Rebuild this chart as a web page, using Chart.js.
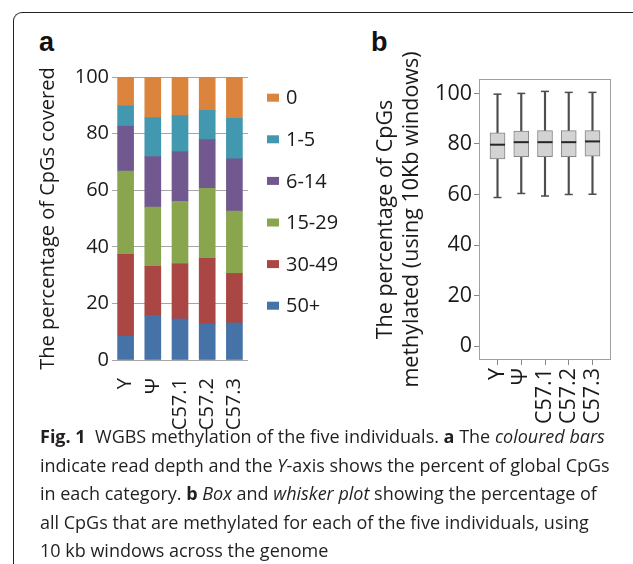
<!DOCTYPE html>
<html>
<head>
<meta charset="utf-8">
<script src="https://cdn.jsdelivr.net/npm/chart.js@4"></script>
<style>
  body { margin: 0; width: 633px; height: 564px; background: #fff; position: relative; overflow: hidden; font-family: "Open Sans", sans-serif; }
  .frame { position: absolute; left: 13px; top: 12px; width: 640px; height: 600px; border-top: 1.5px solid #222; border-left: 1.5px solid #222; border-top-left-radius: 9px; }
  .tag { position: absolute; top: 29px; font: bold 27px "Liberation Sans", Arial, sans-serif; line-height: 27px; color: #111; }
  canvas { position: absolute; }
  #caption { position: absolute; left: 40px; top: 422px; font-size: 18px; line-height: 28.5px; color: #231f20; white-space: nowrap; }
</style>
</head>
<body>
<div class="frame"></div>
<div class="tag" style="left:39px">a</div>
<div class="tag" style="left:371px">b</div>
<canvas id="depthChart" width="350" height="390" style="left:20px; top:50px"></canvas>
<canvas id="boxChart" width="260" height="390" style="left:370px; top:50px"></canvas>
<div id="caption">
  <b>Fig. 1</b>&nbsp; WGBS methylation of the five individuals. <b>a</b> The <i>coloured bars</i><br>
  indicate read depth and the <i>Y</i>-axis shows the percent of global CpGs<br>
  in each category. <b>b</b> <i>Box</i> and <i>whisker plot</i> showing the percentage of<br>
  all CpGs that are methylated for each of the five individuals, using<br>
  10 kb windows across the genome
</div>
<script>
// individuals
const groups = ['Y', 'Ψ', 'C57.1', 'C57.2', 'C57.3'];

// panel a: percent of CpGs per read depth bin (bottom to top)
const depthBins = ['50+', '30-49', '15-29', '6-14', '1-5', '0'];
const depth50 = [8.5, 15.8, 14.5, 12.8, 13.1];
const depth30 = [28.8, 17.3, 19.5, 23.1, 17.5];
const depth15 = [29.5, 20.9, 22.1, 24.8, 22.0];
const depth6 = [15.8, 17.9, 17.5, 17.2, 18.5];
const depth1 = [7.2, 13.7, 12.8, 10.3, 14.3];
const depth0 = [10.2, 14.4, 13.6, 11.8, 14.6];
const depthColors = ['#4572a7', '#aa4643', '#89a54e', '#71588f', '#4198af', '#db843d'];

// panel b: box and whisker values
const whiskerLow = [58.8, 60.4, 59.4, 60.0, 60.1];
const q1 = [74.1, 75.0, 75.0, 75.0, 75.2];
const median = [79.7, 80.7, 80.7, 80.7, 81.0];
const q3 = [84.4, 85.1, 85.3, 85.3, 85.3];
const whiskerHigh = [99.7, 100.0, 100.8, 100.4, 100.4];

const pctTicks = [0, 20, 40, 60, 80, 100];

const family = '"Open Sans", sans-serif';
const fontA = { family: family, size: 20 };
const fontB = { family: family, size: 21.5 };
const ink = '#1a1a1a';

// legend on the right of panel a, top item = last dataset
const sideLegend = {
  id: 'sideLegend',
  afterDraw(chart) {
    const { ctx, chartArea } = chart;
    const sets = chart.data.datasets.slice().reverse();
    ctx.save();
    ctx.font = '20px ' + family;
    ctx.textBaseline = 'middle';
    sets.forEach((ds, k) => {
      const x = chartArea.right + 19;
      const y = chartArea.top + 20.7 + k * 41.6;
      ctx.fillStyle = ds.backgroundColor;
      ctx.fillRect(x, y - 4, 12, 8);
      ctx.fillStyle = ink;
      ctx.fillText(ds.label, x + 19, y + 1);
    });
    ctx.restore();
  }
};

// --- panel a ---
const depthSeries = [depth50, depth30, depth15, depth6, depth1, depth0];
new Chart(document.getElementById('depthChart'), {
  type: 'bar',
  data: {
    labels: groups,
    datasets: depthSeries.map((vals, i) => ({
      label: depthBins[i],
      data: vals,
      backgroundColor: depthColors[i],
      barThickness: 16
    }))
  },
  options: {
    responsive: false,
    animation: false,
    layout: { padding: { top: 27, left: 0, right: 122, bottom: 0 } },
    plugins: { legend: { display: false }, tooltip: { enabled: false } },
    scales: {
      x: {
        stacked: true,
        grid: { display: false },
        border: { display: false },
        ticks: { minRotation: 90, maxRotation: 90, padding: 10, font: fontA, color: ink },
        afterFit: s => { s.height = 80; }
      },
      y: {
        stacked: true,
        min: 0,
        max: 100,
        afterBuildTicks: s => { s.ticks = pctTicks.map(v => ({ value: v })); },
        grid: { color: '#a6a6a6', drawTicks: false },
        border: { display: false },
        ticks: { padding: 3, font: fontA, color: ink },
        title: { display: true, text: 'The percentage of CpGs covered', font: fontA, color: ink, padding: { top: 16, bottom: 0 } },
        afterFit: s => { s.width = 92; }
      }
    }
  },
  plugins: [sideLegend]
});

// --- panel b ---
const framePlugin = {
  id: 'frame',
  beforeDatasetsDraw(chart) {
    const { ctx, chartArea: a } = chart;
    ctx.save();
    ctx.strokeStyle = '#a0a0a0';
    ctx.lineWidth = 1;
    ctx.strokeRect(a.left + 0.5, a.top + 0.5, a.width - 1, a.height - 1);
    ctx.restore();
  }
};

const idx = groups.map((g, i) => i);
new Chart(document.getElementById('boxChart'), {
  type: 'bar',
  data: {
    datasets: [
      {
        type: 'scatter',
        label: 'median',
        data: idx.map(i => ({ x: i, y: median[i] })),
        pointStyle: 'line',
        pointRadius: 7.5,
        pointHoverRadius: 7.5,
        borderColor: '#262626',
        borderWidth: 2,
        order: 0
      },
      {
        type: 'scatter',
        label: 'caps',
        data: idx.map(i => ({ x: i, y: whiskerLow[i] })).concat(idx.map(i => ({ x: i, y: whiskerHigh[i] }))),
        pointStyle: 'line',
        pointRadius: 4,
        pointHoverRadius: 4,
        borderColor: '#4d4d4d',
        borderWidth: 1.5,
        order: 1
      },
      {
        label: 'box',
        data: idx.map(i => ({ x: i, y: [q1[i], q3[i]] })),
        backgroundColor: '#d3d3d3',
        borderColor: '#858585',
        borderWidth: 1,
        borderSkipped: false,
        barThickness: 15,
        grouped: false,
        order: 2
      },
      {
        label: 'whisker',
        data: idx.map(i => ({ x: i, y: [whiskerLow[i], whiskerHigh[i]] })),
        backgroundColor: '#4d4d4d',
        barThickness: 1.5,
        grouped: false,
        order: 3
      }
    ]
  },
  options: {
    responsive: false,
    animation: false,
    layout: { padding: { top: 29, left: 0, right: 19, bottom: 0 } },
    plugins: { legend: { display: false }, tooltip: { enabled: false } },
    scales: {
      x: {
        type: 'linear',
        min: -0.78,
        max: 4.78,
        offset: false,
        afterBuildTicks: s => { s.ticks = idx.map(v => ({ value: v })); },
        grid: { drawOnChartArea: false, offset: false, tickLength: 5, color: '#888' },
        border: { display: false },
        ticks: { minRotation: 90, maxRotation: 90, padding: 3, font: fontB, color: ink, callback: v => groups[v] },
        afterFit: s => { s.height = 80; }
      },
      y: {
        min: -5.5,
        max: 105.7,
        afterBuildTicks: s => { s.ticks = pctTicks.map(v => ({ value: v })); },
        grid: { drawOnChartArea: false, tickLength: 5, color: '#888' },
        border: { display: false },
        ticks: { padding: 2, font: fontB, color: ink },
        title: {
          display: true,
          text: ['The percentage of CpGs', 'methylated (using 10Kb windows)'],
          font: { family: family, size: 21.5, lineHeight: 1.25 },
          color: ink,
          padding: { top: 2, bottom: 0 }
        },
        afterFit: s => { s.width = 109; }
      }
    }
  },
  plugins: [framePlugin]
});
</script>
</body>
</html>
